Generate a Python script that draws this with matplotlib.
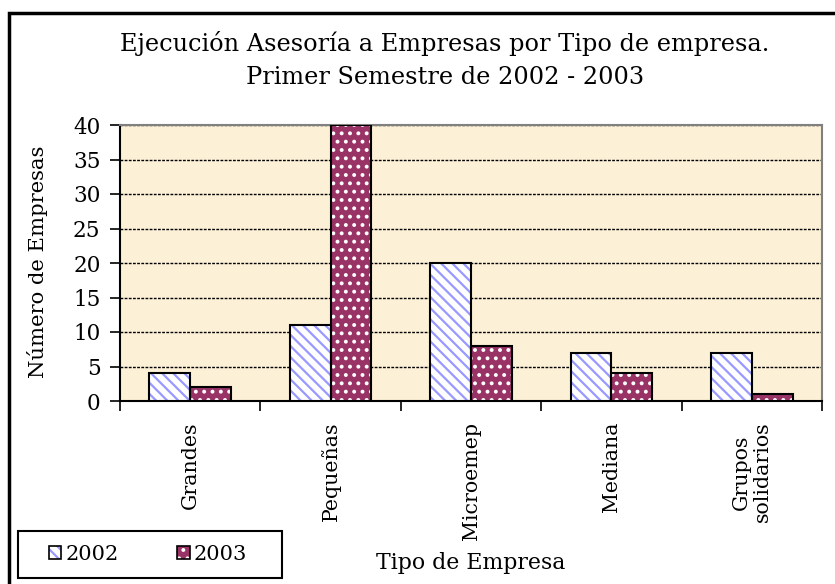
import matplotlib.pyplot as plt
import matplotlib.patches as mpatches
import numpy as np

plt.rcParams['font.family'] = ['DejaVu Serif']
plt.rcParams['hatch.linewidth'] = 1.6

categorias = ['Grandes', 'Pequeñas', 'Microemep', 'Mediana', 'Grupos\nsolidarios']
v2002 = [4, 11, 20, 7, 7]
v2003 = [2, 40, 8, 4, 1]
series = ['2002', '2003']

fig = plt.figure(figsize=(8.35, 5.84), dpi=100)
ax = fig.add_axes([120 / 835, 1 - 401 / 584, (822 - 120) / 835, (401 - 125) / 584])
ax.set_facecolor('#FCF0D6')

x = np.arange(len(categorias))
w = 0.29
# 2002: lineas diagonales azules sobre blanco
ax.bar(x - w / 2, v2002, w, color='white', edgecolor='#9999FF', hatch='\\\\\\', lw=0, zorder=3)
ax.bar(x - w / 2, v2002, w, fill=False, edgecolor='black', lw=1.5, zorder=4)
# 2003: granate con puntos blancos
ax.bar(x + w / 2, v2003, w, color='#993366', edgecolor='white', hatch='..', lw=0, zorder=3)
ax.bar(x + w / 2, v2003, w, fill=False, edgecolor='black', lw=1.5, zorder=4)

ax.set_xlim(-0.5, len(categorias) - 0.5)
ax.set_ylim(0, 40)
ax.set_yticks(range(0, 41, 5))
ax.yaxis.grid(True, color='black', ls=(0, (2, 1)), lw=1)
ax.set_axisbelow(True)
ax.set_xticks(np.arange(len(categorias) + 1) - 0.5)
ax.set_xticklabels([])
for i, c in enumerate(categorias):
    ax.text(i, -3, c, rotation=90, ha='center', va='top', fontsize=14.8,
            multialignment='center', linespacing=1.1)
ax.tick_params(axis='both', labelsize=15.5, length=7, width=1.2, direction='out')
ax.tick_params(axis='y', pad=7)
for s in ['left', 'bottom']:
    ax.spines[s].set_linewidth(1.5)
for s in ['top', 'right']:
    ax.spines[s].set_color('gray')
    ax.spines[s].set_linewidth(1.5)

fig.text(445 / 835, 1 - 60 / 584, 'Ejecución Asesoría a Empresas por Tipo de empresa.\nPrimer Semestre de 2002 - 2003',
         ha='center', va='center', fontsize=17.3, linespacing=1.52)
fig.text(38 / 835, 1 - 262 / 584, 'Número de Empresas', rotation=90, ha='center', va='center', fontsize=15.2)
fig.text(471 / 835, 1 - 563 / 584, 'Tipo de Empresa', ha='center', va='center', fontsize=15.8)

# marco del grafico
fig.patches.append(mpatches.Rectangle((9 / 835, -0.1), 1.2, 1.1 - 13 / 584, transform=fig.transFigure,
                                      fill=False, edgecolor='black', lw=2.5))

# leyenda
fig.patches.append(mpatches.Rectangle((18 / 835, 1 - 578 / 584), 264 / 835, 47 / 584,
                                      transform=fig.transFigure, fill=False, edgecolor='black', lw=1.5))
borde = mpatches.Patch(fill=False, edgecolor='black', lw=1.2)
h1 = mpatches.Patch(facecolor='white', edgecolor='#9999FF', hatch='\\\\\\', lw=0)
h2 = mpatches.Patch(facecolor='#993366', edgecolor='white', hatch='..', lw=0)
fig.legend([(h1, borde), (h2, borde)], series, loc='center', bbox_to_anchor=(148 / 835, 1 - 554 / 584),
           ncol=2, fontsize=15, frameon=False,
           handlelength=0.6, handleheight=0.6, columnspacing=2.8, handletextpad=0.2)

fig.savefig('out.png', dpi=100)
